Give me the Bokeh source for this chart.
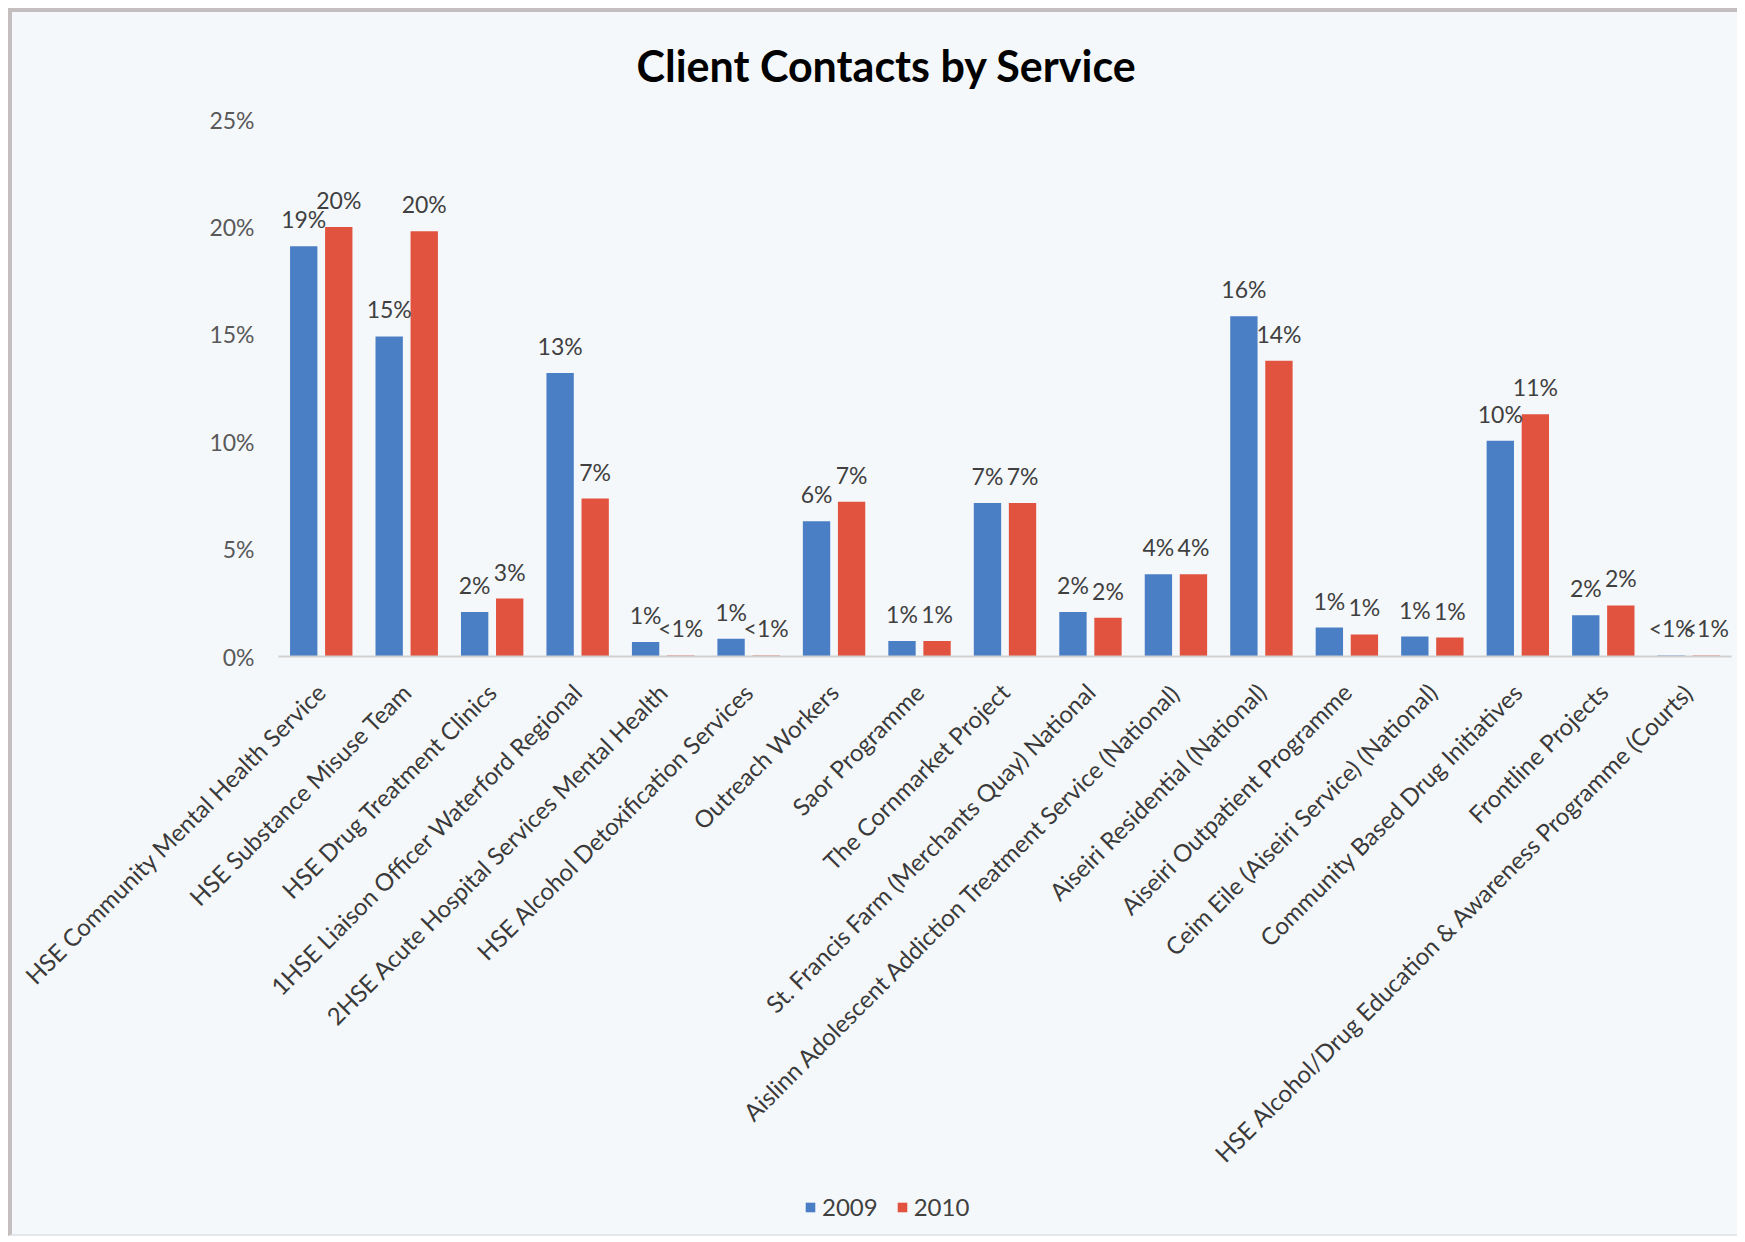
import math
from bokeh.plotting import figure
from bokeh.layouts import column
from bokeh.models import (Range1d, FactorRange, FixedTicker, Legend, LegendItem,
                          ColumnDataSource, Title)
from bokeh.transform import dodge
from bokeh.core.properties import value
from bokeh.embed import file_html
from bokeh.resources import INLINE

# ---------------- data ----------------
categories = [
    "HSE Community Mental Health Service",
    "HSE Substance Misuse Team",
    "HSE Drug Treatment Clinics",
    "1HSE Liaison Officer Waterford Regional",
    "2HSE Acute Hospital Services Mental Health",
    "HSE Alcohol Detoxification Services",
    "Outreach Workers",
    "Saor Programme",
    "The Cornmarket Project",
    "St. Francis Farm (Merchants Quay) National",
    "Aislinn Adolescent Addiction Treatment Service (National)",
    "Aiseiri Residential (National)",
    "Aiseiri Outpatient Programme",
    "Ceim Eile (Aiseiri Service) (National)",
    "Community Based Drug Initiatives",
    "Frontline Projects",
    "HSE Alcohol/Drug Education & Awareness Programme (Courts)",
]
values_2009 = [19.1, 14.9, 2.07, 13.2, 0.67, 0.83, 6.3, 0.72, 7.15, 2.07,
               3.83, 15.84, 1.35, 0.93, 10.04, 1.92, 0.05]
values_2010 = [20.0, 19.8, 2.7, 7.35, 0.05, 0.05, 7.2, 0.72, 7.15, 1.8,
               3.83, 13.77, 1.03, 0.88, 11.28, 2.38, 0.05]
series_names = ["2009", "2010"]
y_ticks = [0, 5, 10, 15, 20, 25]
title_text = "Client Contacts by Service"

# ---------------- styling ----------------
BLUE = "#4A7FC5"
RED = "#E1533F"
BG = "#F5F8FB"
FONT = "Lato"


def pct_label(v):
    return "<1%" if v < 0.5 else f"{round(v)}%"


source = ColumnDataSource(dict(
    cat=categories,
    v2009=values_2009,
    v2010=values_2010,
    l2009=[pct_label(v) for v in values_2009],
    l2010=[pct_label(v) for v in values_2010],
))

W = 1725
H_MAIN, H_LEG = 1174, 48
p = figure(
    width=W, height=H_MAIN,
    x_range=FactorRange(factors=categories),
    y_range=Range1d(0, 25),
    output_backend="svg", toolbar_location=None,
    min_border_left=266, min_border_right=6,
    min_border_top=107, min_border_bottom=530,
)
p.background_fill_color = BG
p.border_fill_color = BG
p.outline_line_color = None
p.xgrid.visible = False
p.ygrid.visible = False

r1 = p.vbar(x=dodge("cat", -0.205, range=p.x_range), top="v2009", width=0.32,
            source=source, fill_color=BLUE, line_color=None)
r2 = p.vbar(x=dodge("cat", 0.205, range=p.x_range), top="v2010", width=0.32,
            source=source, fill_color=RED, line_color=None)

for off, col, lab in [(-0.205, "v2009", "l2009"), (0.205, "v2010", "l2010")]:
    p.text(x=dodge("cat", off, range=p.x_range), y=col, text=lab, source=source,
           text_align="center", text_baseline="middle", y_offset=-27,
           text_font=value(FONT), text_font_size="23px", text_color="#404040")

# y axis
p.yaxis.ticker = FixedTicker(ticks=y_ticks)
p.yaxis.major_label_overrides = {t: f"{t}%" for t in y_ticks}
p.yaxis.axis_line_color = None
p.yaxis.major_tick_line_color = None
p.yaxis.minor_tick_line_color = None
p.yaxis.major_label_standoff = 18
p.yaxis.major_label_text_font = FONT
p.yaxis.major_label_text_font_size = "23px"
p.yaxis.major_label_text_color = "#595959"

# x axis
p.xaxis.axis_line_color = "#D0D0D0"
p.xaxis.axis_line_width = 2
p.xaxis.major_tick_line_color = None
p.xaxis.major_label_orientation = math.pi / 4
p.xaxis.major_label_standoff = 25
p.xaxis.major_label_text_font = FONT
p.xaxis.major_label_text_font_size = "24px"
p.xaxis.major_label_text_color = "#3A3A3A"

# title anchored near the top of the figure
p.title = Title(text=title_text, align="left", offset=358, standoff=54,
                vertical_align="top",
                text_font=FONT, text_font_size="43px", text_font_style="bold",
                text_color="#000000")

# legend strip below the chart
pl = figure(width=W, height=H_LEG, x_range=Range1d(0, 1), y_range=Range1d(0, 1),
            x_axis_type=None, y_axis_type=None, output_backend="svg",
            toolbar_location=None, min_border=0)
pl.background_fill_color = BG
pl.border_fill_color = BG
pl.outline_line_color = None
pl.xgrid.visible = False
pl.ygrid.visible = False
nan = float("nan")
g1 = pl.vbar(x=[nan], top=[nan], width=0.1, fill_color=BLUE, line_color=None)
g2 = pl.vbar(x=[nan], top=[nan], width=0.1, fill_color=RED, line_color=None)
legend = Legend(items=[LegendItem(label=series_names[0], renderers=[g1]),
                       LegendItem(label=series_names[1], renderers=[g2])],
                orientation="horizontal", location=(526, 13),
                glyph_width=12, glyph_height=12, label_standoff=6, spacing=18,
                padding=2, margin=0, border_line_color=None,
                background_fill_alpha=0,
                label_text_font=FONT, label_text_font_size="24px",
                label_text_color="#404040")
pl.add_layout(legend, "center")

layout = column(p, pl, spacing=0)
layout.styles = {"margin-left": "8px", "margin-top": "8px",
                 "border-top": "4px solid #C4BEBE", "border-left": "4px solid #C4BEBE",
                 "border-bottom": "2px solid #E4E7EA", "background-color": BG}

open("out.html", "w").write(file_html(layout, INLINE))
